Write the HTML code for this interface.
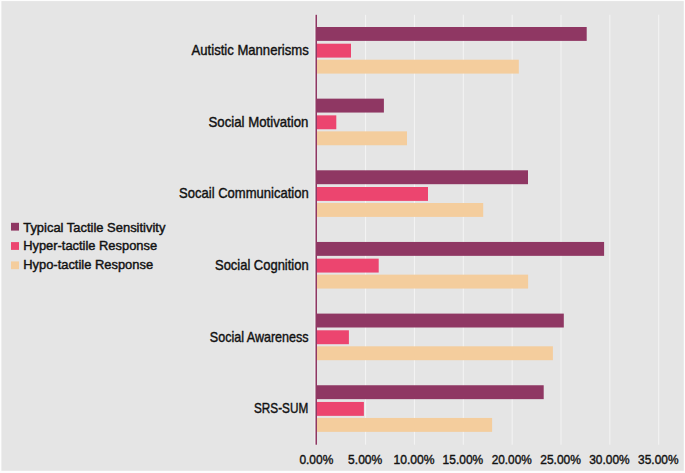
<!DOCTYPE html>
<html><head><meta charset="utf-8"><style>
html,body{margin:0;padding:0;background:#fdfdfd;}
#c{position:absolute;left:0;top:0;width:685px;height:473px;overflow:hidden;background:#fdfdfd;}
svg{position:absolute;left:0;top:0;}
text{font-family:"Liberation Sans",sans-serif;fill:#121212;stroke:#121212;stroke-width:0.42px;}
</style></head><body><div id="c">
<svg width="685" height="473" viewBox="0 0 685 473">
<rect x="1.4" y="1.1" width="682.4" height="469.7" fill="#e5e5e5"/>
<rect x="314.40" y="14.80" width="1" height="429.90" fill="#f4f4f4"/>
<rect x="365.10" y="14.80" width="1" height="429.90" fill="#f4f4f4"/>
<rect x="413.95" y="14.80" width="1" height="429.90" fill="#f4f4f4"/>
<rect x="462.80" y="14.80" width="1" height="429.90" fill="#f4f4f4"/>
<rect x="511.65" y="14.80" width="1" height="429.90" fill="#f4f4f4"/>
<rect x="560.50" y="14.80" width="1" height="429.90" fill="#f4f4f4"/>
<rect x="609.35" y="14.80" width="1" height="429.90" fill="#f4f4f4"/>
<rect x="658.20" y="14.80" width="1" height="429.90" fill="#f4f4f4"/>
<rect x="316.40" y="27.00" width="270.30" height="13.9" fill="#8f3763"/>
<rect x="316.40" y="43.70" width="34.60" height="13.9" fill="#ec456f"/>
<rect x="316.40" y="59.70" width="202.40" height="13.9" fill="#f4cd9d"/>
<rect x="316.40" y="98.65" width="67.50" height="13.9" fill="#8f3763"/>
<rect x="316.40" y="115.35" width="19.90" height="13.9" fill="#ec456f"/>
<rect x="316.40" y="131.35" width="90.60" height="13.9" fill="#f4cd9d"/>
<rect x="316.40" y="170.30" width="211.60" height="13.9" fill="#8f3763"/>
<rect x="316.40" y="187.00" width="111.60" height="13.9" fill="#ec456f"/>
<rect x="316.40" y="203.00" width="166.80" height="13.9" fill="#f4cd9d"/>
<rect x="316.40" y="241.95" width="287.70" height="13.9" fill="#8f3763"/>
<rect x="316.40" y="258.65" width="62.30" height="13.9" fill="#ec456f"/>
<rect x="316.40" y="274.65" width="211.70" height="13.9" fill="#f4cd9d"/>
<rect x="316.40" y="313.60" width="247.40" height="13.9" fill="#8f3763"/>
<rect x="316.40" y="330.30" width="32.50" height="13.9" fill="#ec456f"/>
<rect x="316.40" y="346.30" width="236.50" height="13.9" fill="#f4cd9d"/>
<rect x="316.40" y="385.25" width="227.30" height="13.9" fill="#8f3763"/>
<rect x="316.40" y="401.95" width="47.50" height="13.9" fill="#ec456f"/>
<rect x="316.40" y="417.95" width="175.70" height="13.9" fill="#f4cd9d"/>
<rect x="315.50" y="14.80" width="1.5" height="429.90" fill="#8f3763"/>
<text x="308.7" y="54.60" text-anchor="end" font-size="14.5" textLength="117.1" lengthAdjust="spacingAndGlyphs">Autistic Mannerisms</text>
<text x="308.4" y="126.70" text-anchor="end" font-size="14.5" textLength="99.9" lengthAdjust="spacingAndGlyphs">Social Motivation</text>
<text x="308.7" y="198.35" text-anchor="end" font-size="14.5" textLength="129.6" lengthAdjust="spacingAndGlyphs">Socail Communication</text>
<text x="308.6" y="270.00" text-anchor="end" font-size="14.5" textLength="93.6" lengthAdjust="spacingAndGlyphs">Social Cognition</text>
<text x="308.6" y="341.65" text-anchor="end" font-size="14.5" textLength="98.8" lengthAdjust="spacingAndGlyphs">Social Awareness</text>
<text x="308.2" y="413.30" text-anchor="end" font-size="14.5" textLength="54.2" lengthAdjust="spacingAndGlyphs">SRS-SUM</text>
<text x="299.40" y="463.85" font-size="13.4" textLength="33.9" lengthAdjust="spacingAndGlyphs">0.00%</text>
<text x="348.10" y="463.85" font-size="13.4" textLength="34.2" lengthAdjust="spacingAndGlyphs">5.00%</text>
<text x="393.50" y="463.85" font-size="13.4" textLength="41.1" lengthAdjust="spacingAndGlyphs">10.00%</text>
<text x="442.60" y="463.85" font-size="13.4" textLength="40.6" lengthAdjust="spacingAndGlyphs">15.00%</text>
<text x="491.70" y="463.85" font-size="13.4" textLength="40.1" lengthAdjust="spacingAndGlyphs">20.00%</text>
<text x="540.25" y="463.85" font-size="13.4" textLength="40.7" lengthAdjust="spacingAndGlyphs">25.00%</text>
<text x="589.20" y="463.85" font-size="13.4" textLength="40.5" lengthAdjust="spacingAndGlyphs">30.00%</text>
<text x="638.10" y="463.85" font-size="13.4" textLength="40.4" lengthAdjust="spacingAndGlyphs">35.00%</text>
<rect x="11" y="222.80" width="8" height="7.8" fill="#8f3763"/>
<text x="23.2" y="231.50" font-size="12.6" textLength="142.2" lengthAdjust="spacingAndGlyphs">Typical Tactile Sensitivity</text>
<rect x="11" y="242.10" width="8" height="7.8" fill="#ec456f"/>
<text x="23.2" y="250.35" font-size="12.6" textLength="133.9" lengthAdjust="spacingAndGlyphs">Hyper-tactile Response</text>
<rect x="11" y="261.40" width="8" height="7.8" fill="#f4cd9d"/>
<text x="23.2" y="269.40" font-size="12.6" textLength="129.9" lengthAdjust="spacingAndGlyphs">Hypo-tactile Response</text>
</svg></div></body></html>
